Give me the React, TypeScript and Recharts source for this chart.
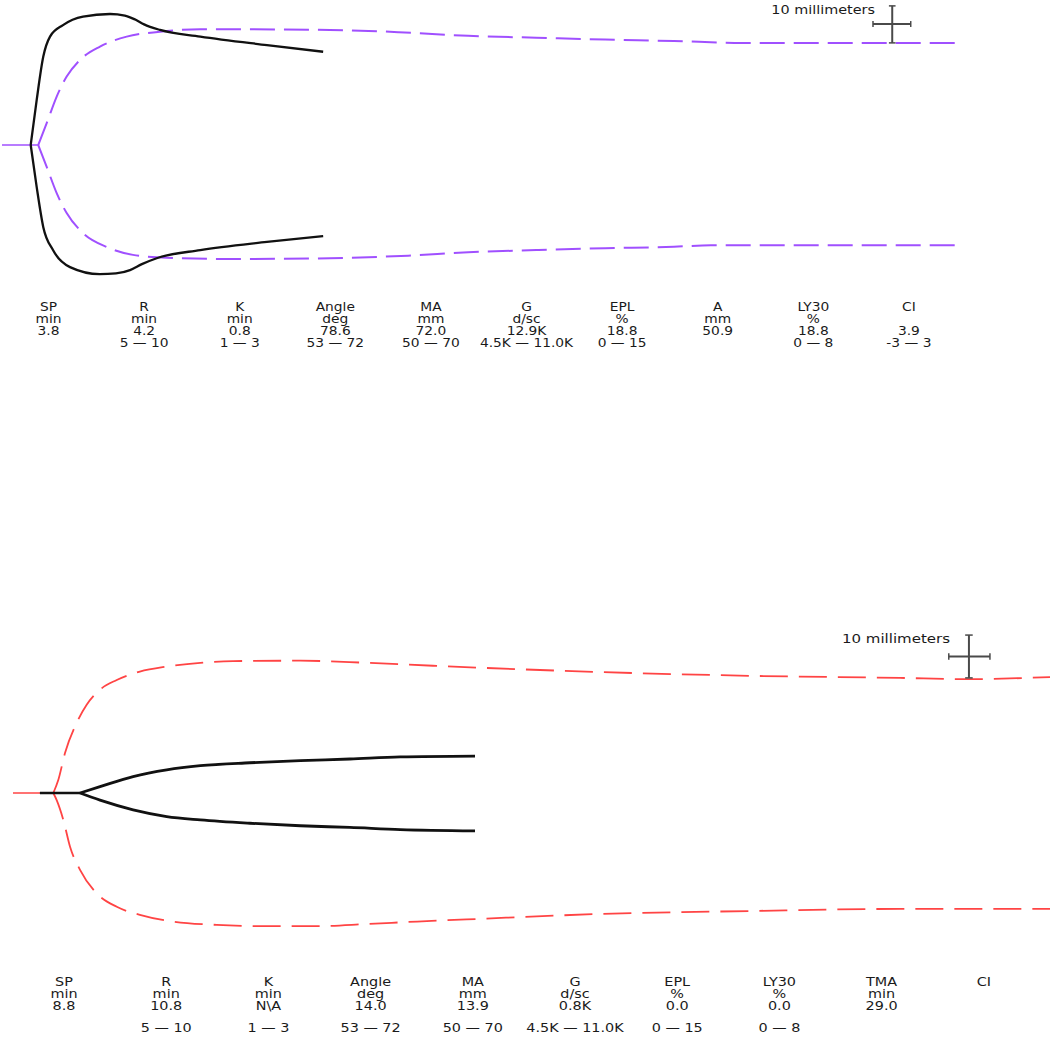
import { LineChart, Line, XAxis, YAxis, ReferenceLine } from "recharts";

// time in minutes, amplitude in mm (split +/- around the baseline)

// ---- top tracing ----
const topBaseline = [
  { t: 0, a: 0 },
  { t: 4.9, a: 0 },
];

const topRefUpper = [
  { t: 4.9, a: 0 },
  { t: 6.04, a: 5.9 },
  { t: 7.39, a: 13.1 },
  { t: 8.74, a: 18.5 },
  { t: 10.54, a: 23.0 },
  { t: 13.24, a: 26.6 },
  { t: 16.85, a: 29.3 },
  { t: 21.35, a: 30.6 },
  { t: 26.8, a: 31.3 },
  { t: 44.3, a: 31.1 },
  { t: 53.6, a: 30.5 },
  { t: 63.0, a: 29.5 },
  { t: 72.2, a: 29.0 },
  { t: 81.5, a: 28.5 },
  { t: 90.8, a: 28.1 },
  { t: 100.1, a: 27.6 },
  { t: 129.9, a: 27.6 },
];

const topRefLower = [
  { t: 4.9, a: 0 },
  { t: 6.04, a: -5.9 },
  { t: 7.39, a: -13.0 },
  { t: 8.74, a: -18.4 },
  { t: 10.95, a: -23.8 },
  { t: 14.2, a: -27.6 },
  { t: 17.7, a: -29.7 },
  { t: 22.3, a: -30.5 },
  { t: 31.2, a: -30.8 },
  { t: 44.3, a: -30.6 },
  { t: 54.9, a: -29.9 },
  { t: 63.0, a: -29.0 },
  { t: 72.2, a: -28.4 },
  { t: 81.5, a: -27.9 },
  { t: 90.8, a: -27.5 },
  { t: 95.8, a: -27.1 },
  { t: 129.9, a: -27.1 },
];

const topUpper = [
  { t: 3.88, a: 0 },
  { t: 4.69, a: 12.2 },
  { t: 5.58, a: 23.9 },
  { t: 6.49, a: 29.3 },
  { t: 8.24, a: 32.4 },
  { t: 10.95, a: 34.7 },
  { t: 14.6, a: 35.4 },
  { t: 16.6, a: 35.0 },
  { t: 18.0, a: 33.9 },
  { t: 19.2, a: 32.6 },
  { t: 21.35, a: 31.1 },
  { t: 26.8, a: 29.3 },
  { t: 35.8, a: 27.0 },
  { t: 43.4, a: 25.2 },
];

const topLower = [
  { t: 3.88, a: 0 },
  { t: 4.69, a: -11.4 },
  { t: 5.58, a: -22.2 },
  { t: 6.89, a: -28.4 },
  { t: 9.19, a: -33.0 },
  { t: 13.2, a: -34.9 },
  { t: 15.4, a: -34.7 },
  { t: 17.3, a: -33.8 },
  { t: 18.9, a: -32.2 },
  { t: 20.9, a: -30.6 },
  { t: 26.8, a: -28.4 },
  { t: 35.8, a: -26.2 },
  { t: 43.4, a: -24.6 },
];

const topScale = { t: 120.3, aLow: 27.6, aHigh: 37.6, aMid: 32.7, tLeft: 117.7, tRight: 122.8 };

const topNames = ["SP", "R", "K", "Angle", "MA", "G", "EPL", "A", "LY30", "CI"];
const topUnits = ["min", "min", "min", "deg", "mm", "d/sc", "%", "mm", "%", ""];
const topValues = ["3.8", "4.2", "0.8", "78.6", "72.0", "12.9K", "18.8", "50.9", "18.8", "3.9"];
const topRanges = ["", "5 \u2014 10", "1 \u2014 3", "53 \u2014 72", "50 \u2014 70", "4.5K \u2014 11.0K", "0 \u2014 15", "", "0 \u2014 8", "-3 \u2014 3"];

// ---- bottom tracing ----
const botRedBaseline = [
  { t: 0, a: 0 },
  { t: 4.8, a: 0 },
];

const botBlackBaseline = [
  { t: 3.2, a: 0 },
  { t: 7.98, a: 0 },
];

const botRefUpper = [
  { t: 4.8, a: 0 },
  { t: 5.39, a: 3.1 },
  { t: 6.19, a: 9.5 },
  { t: 7.58, a: 16.7 },
  { t: 8.77, a: 21.0 },
  { t: 10.36, a: 24.6 },
  { t: 12.35, a: 26.9 },
  { t: 15.1, a: 28.9 },
  { t: 18.3, a: 30.1 },
  { t: 22.3, a: 31.0 },
  { t: 26.2, a: 31.4 },
  { t: 34.2, a: 31.5 },
  { t: 42.1, a: 31.0 },
  { t: 50.0, a: 30.3 },
  { t: 56.0, a: 29.8 },
  { t: 69.9, a: 28.8 },
  { t: 87.7, a: 27.9 },
  { t: 105.6, a: 27.4 },
  { t: 113.3, a: 27.1 },
  { t: 123.5, a: 27.6 },
];

const botRefLower = [
  { t: 4.8, a: 0 },
  { t: 5.2, a: -1.7 },
  { t: 5.99, a: -6.4 },
  { t: 6.79, a: -12.8 },
  { t: 7.98, a: -18.3 },
  { t: 9.96, a: -23.9 },
  { t: 12.35, a: -27.1 },
  { t: 15.1, a: -29.0 },
  { t: 19.0, a: -30.6 },
  { t: 24.25, a: -31.4 },
  { t: 30.2, a: -31.7 },
  { t: 36.2, a: -31.7 },
  { t: 42.1, a: -31.2 },
  { t: 48.1, a: -30.6 },
  { t: 54.0, a: -30.1 },
  { t: 69.9, a: -28.8 },
  { t: 87.7, a: -28.1 },
  { t: 105.6, a: -27.6 },
  { t: 123.5, a: -27.6 },
];

const botUpper = [
  { t: 7.98, a: 0 },
  { t: 10.36, a: 1.5 },
  { t: 14.3, a: 3.9 },
  { t: 18.3, a: 5.5 },
  { t: 22.3, a: 6.5 },
  { t: 28.2, a: 7.2 },
  { t: 34.2, a: 7.7 },
  { t: 40.1, a: 8.1 },
  { t: 46.1, a: 8.6 },
  { t: 55.0, a: 8.8 },
];

const botLower = [
  { t: 7.98, a: 0 },
  { t: 10.36, a: -1.7 },
  { t: 14.3, a: -4.0 },
  { t: 18.3, a: -5.6 },
  { t: 22.3, a: -6.4 },
  { t: 28.2, a: -7.2 },
  { t: 34.2, a: -7.8 },
  { t: 40.1, a: -8.2 },
  { t: 46.1, a: -8.7 },
  { t: 55.0, a: -9.0 },
];

const botScale = { t: 113.8, aLow: 27.4, aHigh: 37.6, aMid: 32.5, tLeft: 111.4, tRight: 116.3 };

const botNames = ["SP", "R", "K", "Angle", "MA", "G", "EPL", "LY30", "TMA", "CI"];
const botUnits = ["min", "min", "min", "deg", "mm", "d/sc", "%", "%", "min", ""];
const botValues = ["8.8", "10.8", "N\\A", "14.0", "13.9", "0.8K", "0.0", "0.0", "29.0", ""];
const botRanges = ["", "5 \u2014 10", "1 \u2014 3", "53 \u2014 72", "50 \u2014 70", "4.5K \u2014 11.0K", "0 \u2014 15", "0 \u2014 8", "", ""];

const FONT = "'DejaVu Sans', Verdana, sans-serif";
const TEXT = "#1a1a1a";
const BAR = "#4a4a4a";

type Pt = { t: number; a: number };
type Scale = typeof topScale;

function scaleBar(s: Scale, capT: number, capA: number) {
  const segs = [
    [{ x: s.t, y: s.aLow }, { x: s.t, y: s.aHigh }],
    [{ x: s.tLeft, y: s.aMid }, { x: s.tRight, y: s.aMid }],
    [{ x: s.t - capT, y: s.aHigh }, { x: s.t + capT, y: s.aHigh }],
    [{ x: s.t - capT, y: s.aLow }, { x: s.t + capT, y: s.aLow }],
    [{ x: s.tLeft, y: s.aMid - capA }, { x: s.tLeft, y: s.aMid + capA }],
    [{ x: s.tRight, y: s.aMid - capA }, { x: s.tRight, y: s.aMid + capA }],
  ];
  return segs.map((seg, i) => (
    <ReferenceLine
      key={"sb" + i}
      segment={seg}
      stroke={BAR}
      strokeWidth={i < 2 ? 2 : 1.5}
      ifOverflow="visible"
    />
  ));
}

function trace(data: Pt[], color: string, width: number, dash?: string, curve = true) {
  return (
    <Line
      data={data}
      dataKey="a"
      type={curve ? "monotone" : "linear"}
      stroke={color}
      strokeWidth={width}
      strokeDasharray={dash}
      dot={false}
      activeDot={false}
      isAnimationActive={false}
    />
  );
}

function ParamTable(props: {
  names: string[];
  units: string[];
  values: string[];
  ranges: string[];
  x0: number;
  step: number;
  rows: number[];
  size: number;
}) {
  const { names, units, values, ranges, x0, step, rows, size } = props;
  const lines = [names, units, values, ranges];
  return (
    <>
      {names.map((_, i) =>
        lines.map((ln, r) =>
          ln[i] ? (
            <text
              key={i + "-" + r}
              transform={`translate(${x0 + i * step},${rows[r]}) scale(1.2,1)`}
              textAnchor="middle"
              fontFamily={FONT}
              fontSize={size}
              fill={TEXT}
            >
              {ln[i]}
            </text>
          ) : null
        )
      )}
    </>
  );
}

export default function App() {
  return (
    <div
      style={{
        position: "absolute",
        left: 0,
        top: 0,
        width: 1050,
        height: 1037,
        background: "#fff",
      }}
    >
      <div style={{ position: "absolute", left: 0, top: 0 }}>
        <LineChart width={1050} height={290} margin={{ top: 0, right: 0, bottom: 0, left: 0 }}>
          <XAxis dataKey="t" type="number" domain={[-0.27, 141.62]} allowDataOverflow hide />
          <YAxis type="number" domain={[-39.19, 39.19]} allowDataOverflow hide />
          {trace(topBaseline, "#a050ff", 1.5, undefined, false)}
          {trace(topRefUpper, "#a050ff", 2, "25 9")}
          {trace(topRefLower, "#a050ff", 2, "25 9")}
          {trace(topUpper, "#111", 2.3)}
          {trace(topLower, "#111", 2.3)}
          {scaleBar(topScale, 0.45, 0.8)}
        </LineChart>
      </div>

      <div style={{ position: "absolute", left: 0, top: 600 }}>
        <LineChart width={1050} height={386} margin={{ top: 0, right: 0, bottom: 0, left: 0 }}>
          <XAxis dataKey="t" type="number" domain={[-1.548, 123.45]} allowDataOverflow hide />
          <YAxis type="number" domain={[-45.95, 45.95]} allowDataOverflow hide />
          {trace(botRedBaseline, "#ff4444", 1.5, undefined, false)}
          {trace(botRefUpper, "#ff4444", 1.8, "28 11")}
          {trace(botRefLower, "#ff4444", 1.8, "28 11")}
          {trace(botBlackBaseline, "#111", 2.5, undefined, false)}
          {trace(botUpper, "#111", 2.8)}
          {trace(botLower, "#111", 2.8)}
          {scaleBar(botScale, 0.45, 0.8)}
        </LineChart>
      </div>

      <svg
        width={1050}
        height={1037}
        style={{ position: "absolute", left: 0, top: 0, pointerEvents: "none" }}
      >
        <text
          transform="translate(875,14) scale(1.2,1)"
          textAnchor="end"
          fontFamily={FONT}
          fontSize={12}
          fill={TEXT}
        >
          10 millimeters
        </text>
        <text
          transform="translate(950,643) scale(1.2,1)"
          textAnchor="end"
          fontFamily={FONT}
          fontSize={12.5}
          fill={TEXT}
        >
          10 millimeters
        </text>
        <ParamTable
          names={topNames}
          units={topUnits}
          values={topValues}
          ranges={topRanges}
          x0={48.5}
          step={95.6}
          rows={[311, 322.5, 334.5, 346.5]}
          size={11.5}
        />
        <ParamTable
          names={botNames}
          units={botUnits}
          values={botValues}
          ranges={botRanges}
          x0={64}
          step={102.2}
          rows={[985.5, 997.5, 1010, 1032]}
          size={12}
        />
      </svg>
    </div>
  );
}
